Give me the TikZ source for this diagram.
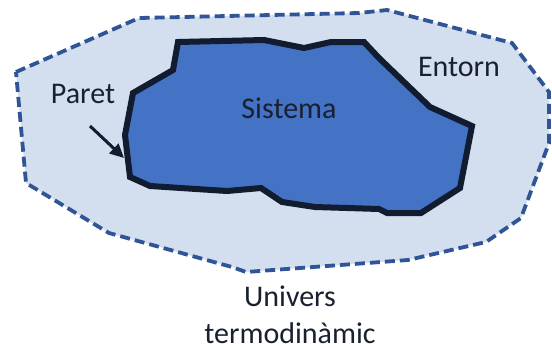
\documentclass[tikz,border=0pt]{standalone}
\usepackage{fontspec}
\setmainfont{Carlito}
\usetikzlibrary{arrows.meta}
\definecolor{envfill}{HTML}{D3DEEF}
\definecolor{envline}{HTML}{2F5597}
\definecolor{sysfill}{HTML}{4472C4}
\definecolor{sysline}{HTML}{111C30}
\definecolor{txt}{HTML}{1A2030}
\tikzset{
  envstyle/.style={fill=envfill, draw=envline, line width=3.8pt, dash pattern=on 10pt off 5pt, line join=miter},
  sysstyle/.style={fill=sysfill, draw=sysline, line width=6pt, line join=miter},
  lbl/.style={text=txt, font=\fontsize{30}{37}\selectfont, inner sep=0pt, anchor=base},
  pointer/.style={draw=sysline, line width=3pt, -{Triangle[length=14pt,width=13pt]}}
}
\begin{document}
\begin{tikzpicture}[x=1pt,y=-1pt]
\useasboundingbox (0,0) rectangle (552,349);
\draw[envstyle] (16,72) -- (139,18) -- (359,13) -- (387,10) -- (512,43) -- (549,92) -- (549,143) -- (521,218) -- (486,242) -- (408,260) -- (246,272) -- (232,267) -- (109,233) -- (26,183) -- cycle;
\draw[sysstyle] (178,42) -- (264,40) -- (304,48) -- (331,42) -- (364,42) -- (379,58) -- (430,107) -- (472,126) -- (460,188) -- (421,213) -- (387,213) -- (379,209) -- (315,207) -- (282,202) -- (261,188) -- (227,191) -- (150,186) -- (130,177) -- (125,135) -- (133,93) -- (173,70) -- cycle;
\node[lbl] (paret) at (83,103) {Paret};
\node[lbl] (sistema) at (289,118) {Sistema};
\node[lbl] (entorn) at (459,76) {Entorn};
\node[lbl] (univers) at (290,306) {Univers};
\node[lbl] (termo) at (290,343) {termodinàmic};
\coordinate (tail) at (90,126);
\coordinate (wall) at (124,158);
\draw[pointer] (tail) -- (wall);
\end{tikzpicture}
\end{document}
